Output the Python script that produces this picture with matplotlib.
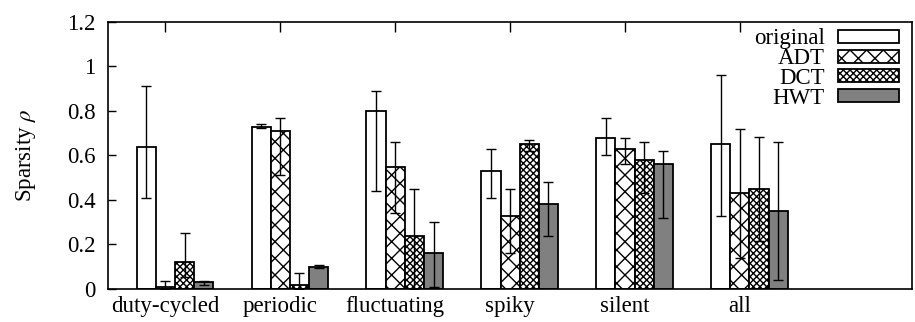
import numpy as np
import matplotlib
matplotlib.use("Agg")
import matplotlib.pyplot as plt

plt.rcParams['font.family'] = ['Liberation Serif', 'DejaVu Serif']
plt.rcParams['mathtext.fontset'] = 'stix'
plt.rcParams['hatch.linewidth'] = 1.0

categories = ['duty-cycled', 'periodic', 'fluctuating', 'spiky', 'silent', 'all']
series = ['original', 'ADT', 'DCT', 'HWT']

original = [0.64, 0.73, 0.80, 0.53, 0.68, 0.65]
original_lo = [0.41, 0.724, 0.44, 0.41, 0.60, 0.33]
original_hi = [0.91, 0.742, 0.89, 0.63, 0.77, 0.96]

adt = [0.01, 0.71, 0.55, 0.33, 0.63, 0.43]
adt_lo = [0.0, 0.51, 0.34, 0.16, 0.56, 0.14]
adt_hi = [0.035, 0.77, 0.66, 0.45, 0.68, 0.72]

dct = [0.12, 0.02, 0.24, 0.65, 0.58, 0.45]
dct_lo = [0.055, 0.0, 0.0, 0.62, 0.43, 0.215]
dct_hi = [0.25, 0.07, 0.45, 0.67, 0.66, 0.685]

hwt = [0.03, 0.10, 0.16, 0.38, 0.56, 0.35]
hwt_lo = [0.02, 0.096, 0.01, 0.24, 0.32, 0.04]
hwt_hi = [0.035, 0.108, 0.30, 0.48, 0.62, 0.66]

yticks = [0, 0.2, 0.4, 0.6, 0.8, 1.0, 1.2]
ytick_labels = ['0', '0.2', '0.4', '0.6', '0.8', '1', '1.2']

fig = plt.figure(figsize=(9.15, 3.22), dpi=100)
ax = fig.add_axes([0.118, 0.1025, 0.879, 0.8295])

x = np.arange(len(categories))
w = 1.0 / 6
vals = [original, adt, dct, hwt]
los = [original_lo, adt_lo, dct_lo, hwt_lo]
his = [original_hi, adt_hi, dct_hi, hwt_hi]
faces = ['white', 'white', 'white', '#808080']
hatches = [None, 'xx', 'xxxxx', None]
offsets = [-1, 0, 1, 2]

for i in range(4):
    v = np.array(vals[i])
    lo = np.array(los[i])
    hi = np.array(his[i])
    ax.bar(x + offsets[i] * w, v, w, color=faces[i], edgecolor='black',
           linewidth=1.3, hatch=hatches[i], label=series[i])
    ax.errorbar(x + offsets[i] * w, v, yerr=[v - lo, hi - v], fmt='none',
                ecolor='black', elinewidth=1.0, capsize=3.5, capthick=1.0)

fs = 16.5
ax.set_xlim(-0.5, 6.5)
ax.set_ylim(0, 1.2)
ax.set_xticks(x)
ax.set_xticklabels(categories, fontsize=fs)
ax.set_yticks(yticks)
ax.set_yticklabels(ytick_labels, fontsize=fs)
ax.set_ylabel(r'Sparsity $\rho$', fontsize=fs, labelpad=21)
ax.tick_params(axis='x', direction='in', top=True, bottom=False, length=7, width=1, pad=5)
ax.tick_params(axis='y', direction='in', left=True, right=False, length=6, width=1, pad=9)
for s in ax.spines.values():
    s.set_linewidth(1.2)

ax.legend(loc='upper right', frameon=False, markerfirst=False, fontsize=fs,
          handlelength=2.65, handleheight=0.5, labelspacing=-0.05,
          borderaxespad=0.0, handletextpad=0.6, bbox_to_anchor=(0.995, 1.01))

plt.savefig('out.png', dpi=100)
